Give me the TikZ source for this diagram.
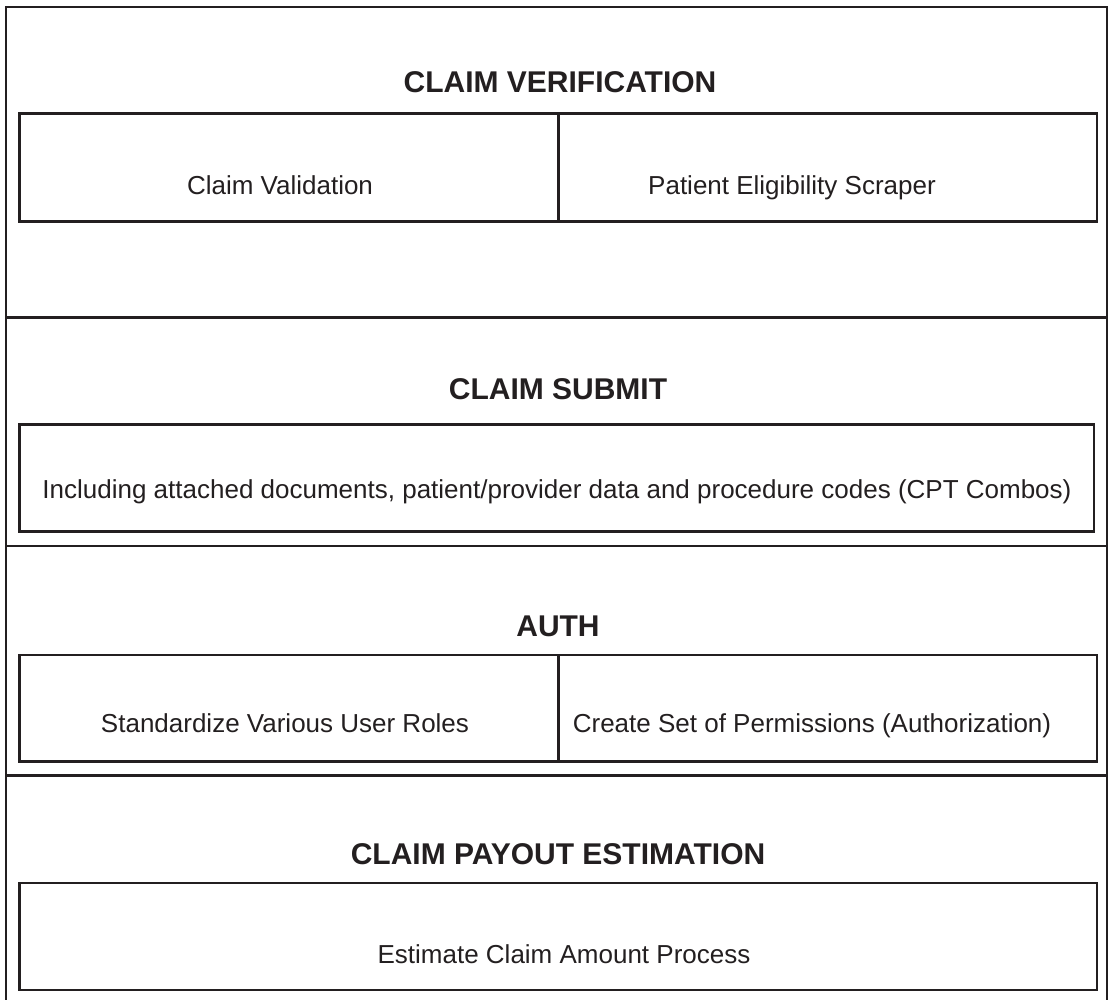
\documentclass[tikz,border=0pt]{standalone}
\usepackage{fontspec}
\setmainfont{Liberation Sans}
\usepackage{xcolor}
\definecolor{ink}{HTML}{231F20}
\usetikzlibrary{positioning}

\begin{document}
\begin{tikzpicture}[x=1pt, y=-1pt,
    line width=2.7pt, draw=ink,
    head/.style={anchor=base, font=\fontsize{30}{36}\selectfont\bfseries, text=ink},
    item/.style={anchor=base, font=\fontsize{26}{31}\selectfont, text=ink}]
    \useasboundingbox (0,0) rectangle (1110,1000);

    % outer frame and section rules
    \draw[ink] (6,1010) -- (6,7) -- (1107,7) -- (1107,1010);
    \draw[ink] (6,317.3) -- (1107,317.3);
    \draw[ink] (6,546) -- (1107,546);
    \draw[ink] (6,775.3) -- (1107,775.3);

    % claim verification
    \node[head] (cvhead) at (560,93) {CLAIM VERIFICATION};
    \draw[ink] (19.5,113.5) rectangle (1097,221.5);
    \draw[ink] (558.7,113.5) -- (558.7,221.5);
    \node[item] (cvval) at (280,195) {Claim Validation};
    \node[item] (cvelig) at (792,195) {Patient Eligibility Scraper};

    % claim submit
    \node[head] (cshead) at (558,399) {CLAIM SUBMIT};
    \draw[ink] (19.5,424.7) rectangle (1094,531.3);
    \node[item] (csdocs) at (557,498) {Including attached documents, patient/provider data and procedure codes (CPT Combos)};

    % auth
    \node[head] (authhead) at (558,636) {AUTH};
    \draw[ink] (19.5,655) rectangle (1097,761.3);
    \draw[ink] (558.7,655) -- (558.7,761.3);
    \node[item] (authroles) at (285,732) {Standardize Various User Roles};
    \node[item] (authperm) at (812,732) {Create Set of Permissions (Authorization)};

    % claim payout estimation
    \node[head] (cpehead) at (558,864) {CLAIM PAYOUT ESTIMATION};
    \draw[ink] (19.5,883) rectangle (1097,990);
    \node[item] (cpeamount) at (564,963) {Estimate Claim Amount Process};
\end{tikzpicture}
\end{document}
